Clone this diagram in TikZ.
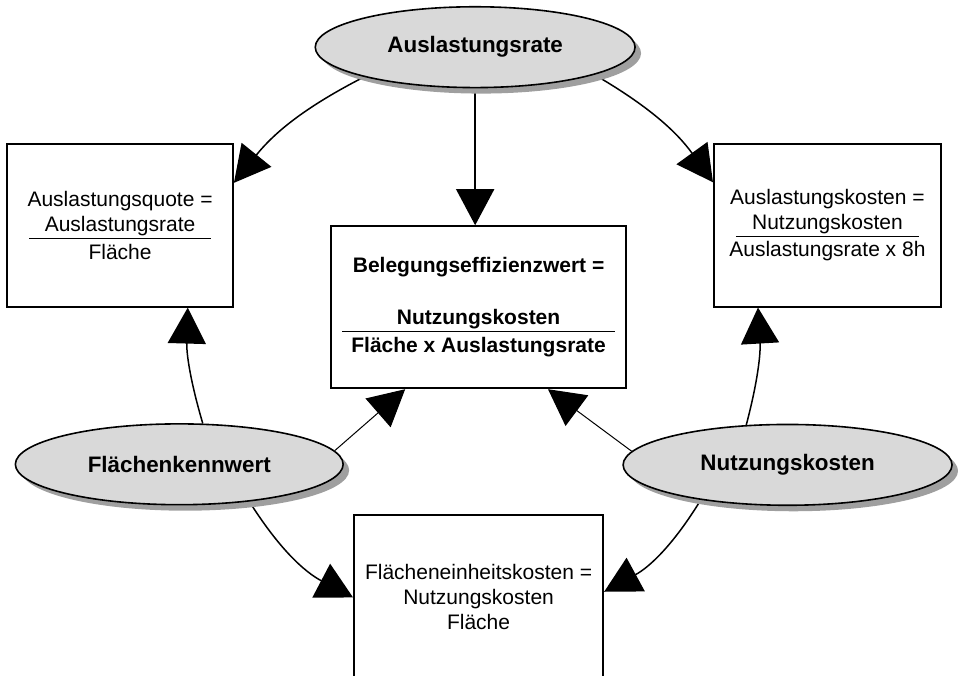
\documentclass[tikz,border=0pt]{standalone}
\usepackage{fontspec}
\setmainfont{Liberation Sans}
\usetikzlibrary{arrows.meta,shapes.geometric,shadows,backgrounds}

% Bruchstrich ueber der letzten Zeile einer Formel
\newcommand{\bruchzeile}[2]{\rlap{\raisebox{10pt}{\rule{#1}{0.6pt}}}\makebox[#1]{#2}}

\begin{document}
\begin{tikzpicture}[
    font=\fontsize{10.5}{12.5}\selectfont,
    kennzahl/.style={draw, ellipse, line width=0.8pt, fill=gray!30, inner sep=0pt,
      minimum height=1.42cm, font=\bfseries\fontsize{11.2}{13}\selectfont,
      drop shadow={shadow xshift=3pt, shadow yshift=-3pt, fill=gray!75, opacity=1}},
    formel/.style={draw, line width=0.9pt, fill=white, align=center, inner sep=0pt},
    pfeil/.style={line width=0.75pt, -{Triangle[length=18pt,width=19pt]}},
    pfeilduenn/.style={pfeil, line width=0.5pt}
  ]
    \useasboundingbox (0,0) rectangle (16.835,11.879);
    \clip (0,0) rectangle (16.835,11.879);

    \node[kennzahl, minimum width=5.62cm] (rate) at (8.35,11.05) {Auslastungsrate};
    \node[kennzahl, minimum width=5.76cm] (flaeche) at (3.15,3.72) {Flächenkennwert};
    \node[kennzahl, minimum width=5.78cm] (kosten) at (13.84,3.71) {Nutzungskosten};

    \node[formel, minimum width=3.97cm, minimum height=2.86cm] (quote) at (2.11,7.92)
      {Auslastungsquote =\\Auslastungsrate\\\bruchzeile{91pt}{Fläche}};
    \node[formel, minimum width=3.99cm, minimum height=2.86cm] (akosten) at (14.54,7.92)
      {Auslastungskosten =\\Nutzungskosten\\\bruchzeile{91.5pt}{Auslastungsrate x 8h}};
    \node[formel, minimum width=5.18cm, minimum height=2.85cm,
      font=\bfseries\fontsize{10.5}{12.5}\selectfont] (effizienz) at (8.41,6.48)
      {Belegungseffizienzwert =\\[13.5pt]Nutzungskosten\\\bruchzeile{136.5pt}{Fläche x Auslastungsrate}};
    \node[formel, minimum width=4.38cm, minimum height=2.9cm] (einheit) at (8.41,1.38)
      {Flächeneinheitskosten =\\Nutzungskosten\\Fläche};

    \begin{scope}[on background layer]
      \draw[pfeil] (rate.195) to[bend right=12] ([yshift=-0.7cm]quote.north east);
      \draw[pfeil] (rate.south) -- (rate.south |- effizienz.north);
      \draw[pfeil] (rate.347) to[bend left=12] ([yshift=-0.69cm]akosten.north west);
      \draw[pfeil] (flaeche.60) to[bend left=9] ([xshift=1.19cm]quote.south);
      \draw[pfeilduenn] (flaeche.5) -- ([xshift=-1.29cm]effizienz.south);
      \draw[pfeilduenn] (kosten.175) -- ([xshift=1.22cm]effizienz.south);
      \draw[pfeil] (kosten.136) to[bend right=9] ([xshift=-1.22cm]akosten.south);
      \draw[pfeil] (flaeche.332) to[bend right=15] (einheit.west);
      \draw[pfeil] (kosten.202) to[bend left=15] ([yshift=0.1cm]einheit.east);
    \end{scope}
  \end{tikzpicture}
\end{document}
